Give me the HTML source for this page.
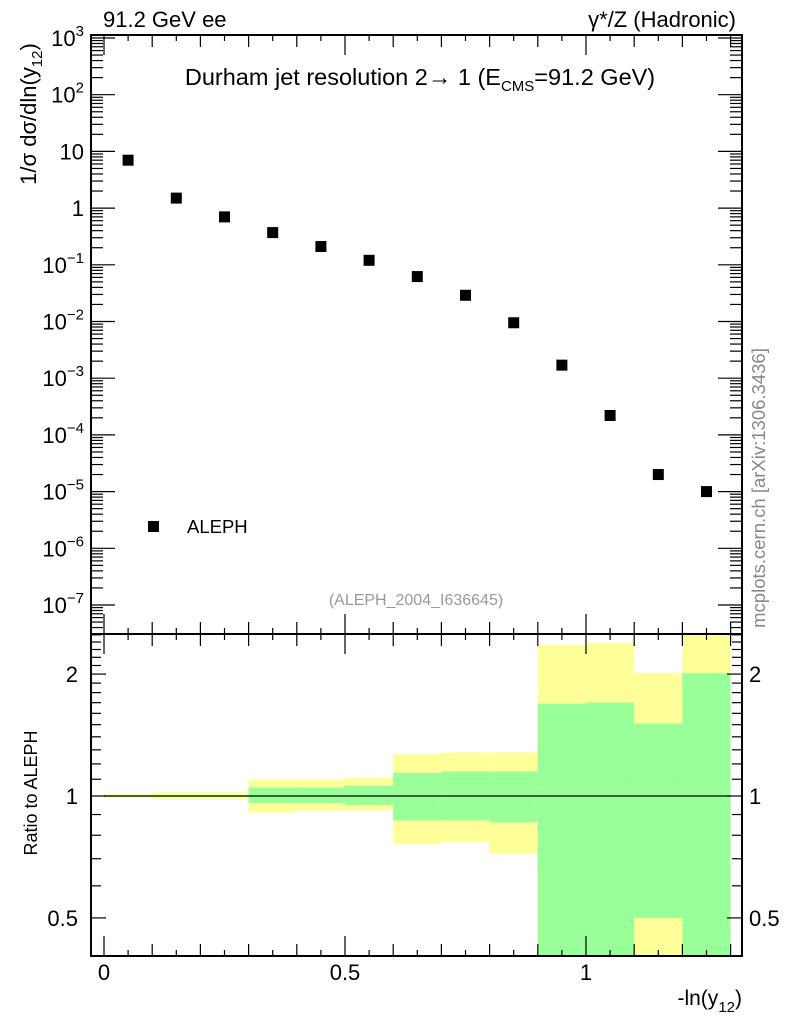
<!DOCTYPE html>
<html><head><meta charset="utf-8"><style>
body{margin:0;background:#fff}
svg{display:block;font-family:"Liberation Sans",sans-serif}
</style></head><body>
<svg id="c" width="786" height="1024" viewBox="0 0 786 1024" xmlns="http://www.w3.org/2000/svg">
<g id="bands"></g>
<g id="axes"></g>
<g id="pts"></g>
<text x="103" y="27" font-size="22">91.2 GeV ee</text>
<text x="736" y="27" font-size="22" text-anchor="end">γ*/Z (Hadronic)</text>
<text x="420" y="85" font-size="23.5" text-anchor="middle">Durham jet resolution 2→  1 (E<tspan font-size="15" dy="6">CMS</tspan><tspan dy="-6">=91.2 GeV)</tspan></text>
<rect x="148" y="521" width="11" height="11" fill="#000"/>
<text x="187" y="533" font-size="18.5">ALEPH</text>
<text x="416" y="605" font-size="16" fill="#999" text-anchor="middle">(ALEPH_2004_I636645)</text>
<text transform="translate(765,488) rotate(-90)" font-size="18.5" fill="#888" text-anchor="middle">mcplots.cern.ch [arXiv:1306.3436]</text>
<text transform="translate(36,114) rotate(-90)" font-size="22" text-anchor="middle">1/σ  dσ/dln(y<tspan font-size="15" dy="6">12</tspan><tspan dy="-6">)</tspan></text>
<text transform="translate(37,793) rotate(-90)" font-size="18" text-anchor="middle">Ratio to ALEPH</text>
<text x="742" y="1005" font-size="21" text-anchor="end">-ln(y<tspan font-size="15" dy="7">12</tspan><tspan dy="-7">)</tspan></text>
</svg>
<script>
const binLo=[0,0.1,0.2,0.3,0.4,0.5,0.6,0.7,0.8,0.9,1.0,1.1,1.2];
const binHi=[0.1,0.2,0.3,0.4,0.5,0.6,0.7,0.8,0.9,1.0,1.1,1.2,1.3];
const values=[7,1.5,0.7,0.37,0.21,0.12,0.062,0.029,0.0095,0.0017,0.00022,2.0e-5,1.0e-5];
const yellowUp=[1.01,1.02,1.02,1.10,1.10,1.11,1.27,1.28,1.28,2.36,2.39,2.01,3];
const yellowLo=[0.99,0.98,0.98,0.91,0.92,0.92,0.76,0.77,0.72,0.3,0.3,0.3,0.3];
const greenUp=[1.005,1.005,1.005,1.05,1.05,1.06,1.14,1.15,1.15,1.69,1.70,1.51,2.01];
const greenLo=[0.995,0.995,0.995,0.96,0.96,0.95,0.87,0.87,0.86,0.3,0.3,0.5,0.3];
const xTicks=[0,0.5,1];
const xTickLabels=["0","0.5","1"];
const rTicks=[0.5,1,2];
const rTickLabels=["0.5","1","2"];

const L=91,R=742,T=35,MB=634,RB=956;
const X=v=>104+v*482;
const Y=v=>38+(3-Math.log10(v))*56.7;
const RY=v=>796-Math.log10(v)*405;
const clampR=y=>Math.max(MB,Math.min(RB,y));
const NS="http://www.w3.org/2000/svg";
function mk(p,tag,at){const e=document.createElementNS(NS,tag);for(const k in at)e.setAttribute(k,at[k]);p.appendChild(e);return e;}
const bands=document.getElementById('bands'),axes=document.getElementById('axes'),pts=document.getElementById('pts');

for(let i=0;i<binLo.length;i++){
  const x0=X(binLo[i]),x1=X(binHi[i]);
  const ya=clampR(RY(yellowUp[i])),yb=clampR(RY(yellowLo[i]));
  const y=mk(bands,'rect',{x:x0,y:ya,width:x1-x0,height:yb-ya,fill:'#ffff99'});
  
  
  const ga=clampR(RY(greenUp[i])),gb=clampR(RY(greenLo[i]));
  const g=mk(bands,'rect',{x:x0,y:ga,width:x1-x0,height:gb-ga,fill:'#99ff99'});
  
  
}
mk(axes,'line',{x1:X(0),x2:X(1.3),y1:RY(1),y2:RY(1),stroke:'#000','stroke-width':1.2});
mk(axes,'rect',{x:L,y:T,width:R-L,height:MB-T,fill:'none',stroke:'#000','stroke-width':2});
mk(axes,'rect',{x:L,y:MB,width:R-L,height:RB-MB,fill:'none',stroke:'#000','stroke-width':2});
for(let k=0;k<=26;k++){
  const v=k*0.05,x=X(v);if(x>R)break;
  const big=(k%10===0),len=big?20:(k%2===0?12:6);
  [[T,1],[MB,-1],[MB,1],[RB,-1]].forEach(([y0,d])=>mk(axes,'line',{x1:x,x2:x,y1:y0,y2:y0+d*len,stroke:'#000','stroke-width':1.2}));
}
xTicks.forEach((v,i)=>{const t=mk(axes,'text',{x:X(v),y:980,'font-size':22,'text-anchor':'middle'});t.textContent=xTickLabels[i];

});
for(let e=-8;e<=3;e++){
  for(let m=1;m<10;m++){
    const v=m*Math.pow(10,e),y=Y(v);if(y<T-0.5||y>MB)continue;
    const len=m===1?24:12;
    mk(axes,'line',{x1:L,x2:L+len,y1:y,y2:y,stroke:'#000','stroke-width':1.2});
    mk(axes,'line',{x1:R,x2:R-len,y1:y,y2:y,stroke:'#000','stroke-width':1.2});
  }
  const y=Y(Math.pow(10,e));if(y<T-2||y>MB)continue;
  const t=mk(axes,'text',{x:84,y:y+8,'font-size':22,'text-anchor':'end'});
  
  
  if(e===0)t.textContent='1';else if(e===1)t.textContent='10';
  else{t.textContent='10';const s=mk(t,'tspan',{dy:-10,'font-size':15});s.textContent=String(e).replace('-','−');}
}
[0.4,0.5,0.6,0.7,0.8,0.9,1,1.1,1.2,1.3,1.4,1.5,1.6,1.7,1.8,1.9,2,2.1,2.2,2.3,2.4,2.5].forEach(v=>{
  const y=RY(v);if(y<MB||y>RB)return;
  const len=rTicks.includes(v)?15:10;
  mk(axes,'line',{x1:L,x2:L+len,y1:y,y2:y,stroke:'#000','stroke-width':1.2});
  mk(axes,'line',{x1:R,x2:R-len,y1:y,y2:y,stroke:'#000','stroke-width':1.2});
});
rTicks.forEach((v,i)=>{
  const a=mk(axes,'text',{x:78,y:RY(v)+8,'font-size':22,'text-anchor':'end'});a.textContent=rTickLabels[i];
  
  
  const b=mk(axes,'text',{x:749,y:RY(v)+8,'font-size':22});b.textContent=rTickLabels[i];
  
  
});
for(let i=0;i<values.length;i++){
  const cx=X((binLo[i]+binHi[i])/2),cy=Y(values[i]);
  const r=mk(pts,'rect',{x:cx-5.5,y:cy-5.5,width:11,height:11,fill:'#000'});
  
  
}
</script>
</body></html>
